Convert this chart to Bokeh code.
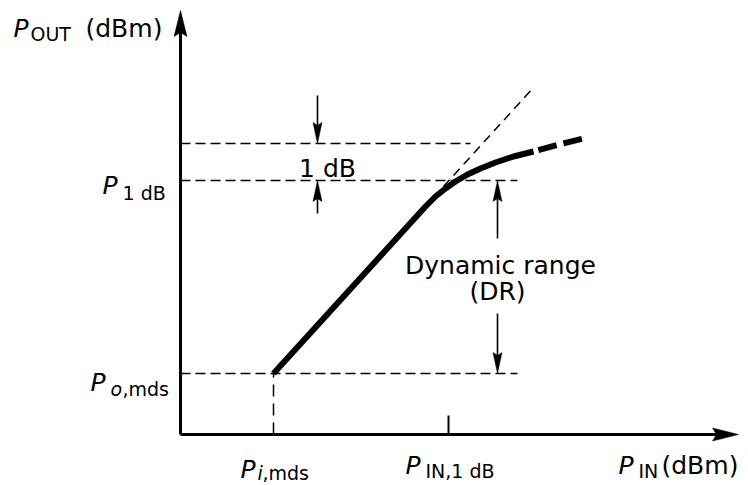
from bokeh.plotting import figure
from bokeh.models import Range1d
from bokeh.core.properties import value
from bokeh.embed import file_html
from bokeh.resources import INLINE

# ---------------- data (schematic units) ----------------
axis_x_end = 558          # tip of P_IN axis
axis_y_end = 424          # tip of P_OUT axis
p_omds = 61               # P_o,mds level
p_1db = 254               # P_1dB level
p_1db_plus1 = 291         # level 1 dB above P_1dB
p_imds = 93               # P_i,mds
p_in_1db = 268            # P_IN,1dB

# transfer curve (solid part, then dashed saturation tail)
curve_x = [93, 235, 245, 255, 265, 275, 287, 300, 315, 333, 353]
curve_y = [61, 217, 228, 238, 246, 253, 260, 266, 272, 278, 283]
tail_x = [353, 378, 403]
tail_y = [283, 290, 296]

# linear extrapolation (dashed)
extrap_x = [263, 353]
extrap_y = [248, 347]

# horizontal dashed reference lines: level and right end
ref_levels = [p_1db_plus1, p_1db, p_omds]
ref_ends = [290, 337, 337]

# dimension arrows: (x, y_start, y_tip)
arrow_x = [137, 137, 317, 317]
arrow_y0 = [339, 221, 196, 121]
arrow_y1 = [p_1db_plus1, p_1db, p_1db, p_omds]

# labels: italic main "P"
P_text = ["P", "P", "P", "P", "P", "P"]
P_x = [-167, -78, -90, 60, 225, 438]
P_y = [406, 249, 52, -35, -31, -31]
# subscripts (regular)
sub_text = ["OUT", "1 dB", ",mds", ",mds", "IN,1 dB", "IN"]
sub_x = [-150, -58, -58, 82, 245, 458]
sub_y = [401, 242, 46, -38, -36, -36]
# subscripts (italic)
isub_text = ["o", "i"]
isub_x = [-70, 77]
isub_y = [46, -38]
# regular left-aligned texts
txt_text = ["(dBm)", "(dBm)"]
txt_x = [-95, 481]
txt_y = [406, -31]
# centred annotation texts
ctext = ["1 dB", "Dynamic range", "(DR)"]
ctext_x = [147, 320, 317]
ctext_y = [266, 169, 143]

FONT = value("DejaVu Sans")
MAIN = "25px"
SUB = "19px"

p = figure(width=740, height=485, output_backend="svg", toolbar_location=None,
           x_range=Range1d(-180, 560), y_range=Range1d(-51, 434),
           x_axis_type=None, y_axis_type=None, min_border=0,
           background_fill_color="white", border_fill_color="white")
p.outline_line_color = None
p.grid.visible = False


def head(tx, ty, dx, dy, length, width, notch):
    bx, by = tx - dx * length, ty - dy * length
    nx, ny = -dy, dx
    mx, my = tx - dx * (length - notch), ty - dy * (length - notch)
    xs = [tx, bx + nx * width / 2, mx, bx - nx * width / 2]
    ys = [ty, by + ny * width / 2, my, by - ny * width / 2]
    return xs, ys


# axes
p.line([0, 0], [0, axis_y_end - 12], line_width=3, line_color="black")
p.line([0, axis_x_end - 12], [0, 0], line_width=3, line_color="black")
hx, hy = [], []
for (tx, ty, dx, dy) in [(0, axis_y_end, 0, 1), (axis_x_end, 0, 1, 0)]:
    a, b = head(tx, ty, dx, dy, 26, 13, 4)
    hx.append(a)
    hy.append(b)

# dashed reference lines
p.multi_line([[0, e] for e in ref_ends], [[l, l] for l in ref_levels],
             line_color="black", line_width=1.5, line_dash="10 5")
p.line([p_imds, p_imds], [0, p_omds], line_color="black", line_width=1.5,
       line_dash="12 7")
# tick at P_IN,1dB
p.line([p_in_1db, p_in_1db], [0, 19], line_color="black", line_width=2)

# extrapolation
p.line(extrap_x, extrap_y, line_color="black", line_width=1.5, line_dash="9 6")

# transfer curve
p.line(curve_x, curve_y, line_color="black", line_width=6, line_join="round")
p.line(tail_x, tail_y, line_color="black", line_width=6, line_dash="19 7",
       line_dash_offset=21)

# dimension arrows
sx, sy = [], []
for x, y0, y1 in zip(arrow_x, arrow_y0, arrow_y1):
    d = 1 if y1 > y0 else -1
    sx.append([x, x])
    sy.append([y0, y1 - d * 16])
    a, b = head(x, y1, 0, d, 21, 9, 3)
    hx.append(a)
    hy.append(b)
p.multi_line(sx, sy, line_color="black", line_width=1.6)
p.patches(hx, hy, fill_color="black", line_color="black", line_width=0.5)

# texts
p.text(P_x, P_y, text=P_text, text_font=FONT, text_font_size=MAIN,
       text_font_style="italic", text_baseline="alphabetic", text_align="left",
       text_color="black")
p.text(sub_x, sub_y, text=sub_text, text_font=FONT, text_font_size=SUB,
       text_baseline="alphabetic", text_align="left", text_color="black")
p.text(isub_x, isub_y, text=isub_text, text_font=FONT, text_font_size=SUB,
       text_font_style="italic", text_baseline="alphabetic", text_align="left",
       text_color="black")
p.text(txt_x, txt_y, text=txt_text, text_font=FONT, text_font_size=MAIN,
       text_baseline="alphabetic", text_align="left", text_color="black")
p.text(ctext_x, ctext_y, text=ctext, text_font=FONT, text_font_size=MAIN,
       text_baseline="alphabetic", text_align="center", text_color="black")

open("out.html", "w").write(file_html(p, INLINE))
